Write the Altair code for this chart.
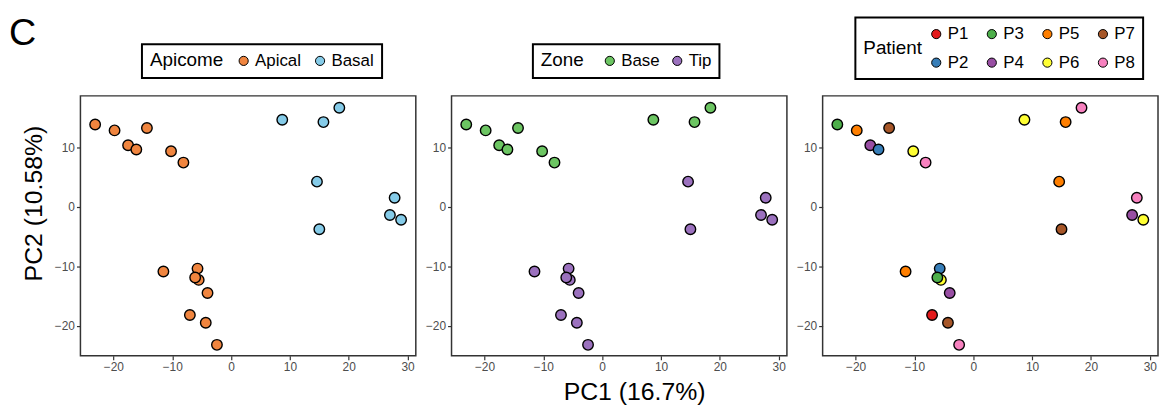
import altair as alt
import pandas as pd

pc1 = [-23.1, -19.8, -17.5, -16.1, -14.3, -10.2, -8.1, 8.7, 18.4, 15.7, 14.6, 27.8,
       27.0, 28.9, 15.0, -11.5, -5.7, -5.5, -6.1, -4.0, -7.0, -4.3, -2.4]
pc2 = [13.8, 12.8, 10.3, 9.6, 13.2, 9.3, 7.4, 14.6, 16.6, 14.2, 4.2, 1.5,
       -1.4, -2.2, -3.8, -10.9, -10.4, -12.3, -11.9, -14.5, -18.2, -19.5, -23.2]
apicome = ["Apical"] * 7 + ["Basal"] * 8 + ["Apical"] * 8
zone = ["Base"] * 10 + ["Tip"] * 13
patient = ["P3", "P5", "P4", "P2", "P7", "P6", "P8", "P6", "P8", "P5", "P5", "P8",
           "P4", "P6", "P7", "P5", "P2", "P6", "P3", "P4", "P1", "P7", "P8"]

apicome_levels = ["Apical", "Basal"]
apicome_colors = ["#F0853F", "#85CBE8"]
zone_levels = ["Base", "Tip"]
zone_colors = ["#6CC562", "#9B71BE"]
patient_levels = ["P1", "P3", "P5", "P7", "P2", "P4", "P6", "P8"]
patient_colors = ["#E41A1C", "#4DAF4A", "#FF7F00", "#A65628",
                  "#377EB8", "#984EA3", "#FFFF33", "#F781BF"]

x_ticks = [-20, -10, 0, 10, 20, 30]
y_ticks = [-20, -10, 0, 10]

df = pd.DataFrame({"PC1": pc1, "PC2": pc2, "Apicome": apicome,
                   "Zone": zone, "Patient": patient})

FONT = "Liberation Sans"
W, H = 338, 262


def panel(field, levels, colors, lx, ly, cols, tpad, cpad, ytitle=None, xtitle=None):
    yaxis = dict(values=y_ticks, title=ytitle)
    if ytitle:
        yaxis.update(titleFontSize=25, titleY=108, titlePadding=8)
    xaxis = dict(values=x_ticks, title=xtitle)
    if xtitle:
        xaxis.update(titleFontSize=25, titleX=184, titlePadding=7)
    return alt.Chart(df).mark_circle(
        size=112, opacity=1, stroke="black", strokeWidth=1.4
    ).encode(
        x=alt.X("PC1:Q", scale=alt.Scale(domain=[-25.6, 31.4], nice=False, zero=False),
                axis=alt.Axis(**xaxis)),
        y=alt.Y("PC2:Q", scale=alt.Scale(domain=[-25.05, 18.6], nice=False, zero=False),
                axis=alt.Axis(**yaxis)),
        color=alt.Color(f"{field}:N",
                        scale=alt.Scale(domain=levels, range=colors),
                        legend=alt.Legend(orient="none", legendX=lx, legendY=ly,
                                          direction="horizontal", columns=cols,
                                          titleOrient="left", titleAnchor="middle",
                                          titleBaseline="middle",
                                          titlePadding=tpad, columnPadding=cpad,
                                          rowPadding=11, padding=8,
                                          strokeColor="black",
                                          symbolType="circle", symbolSize=85,
                                          symbolStrokeColor="black",
                                          symbolStrokeWidth=1,
                                          labelFontSize=17, titleFontSize=19,
                                          labelOffset=3)),
    ).properties(width=W, height=H)


p1 = panel("Apicome", apicome_levels, apicome_colors, 62, -52, 2, 12, 10,
           ytitle="PC2 (10.58%)")
label_df = pd.DataFrame({"t": ["C"]})
c_label = alt.Chart(label_df).mark_text(
    fontSize=38, align="left", baseline="alphabetic", font=FONT, color="black"
).encode(x=alt.value(-72), y=alt.value(-51), text="t:N")
p1 = alt.layer(p1, c_label).resolve_scale(color="independent")

p2 = panel("Zone", zone_levels, zone_colors, 82, -52, 2, 17, 9, xtitle="PC1 (16.7%)")
p3 = panel("Patient", patient_levels, patient_colors, 33, -79, 4, 5, 15)

chart = alt.hconcat(p1, p2, p3, spacing=36, bounds="flush").resolve_scale(
    color="independent"
).properties(
    padding={"top": 5, "left": 0, "right": 0, "bottom": 0}
).configure(font=FONT).configure_view(
    stroke="#333333", strokeWidth=1.5
).configure_axis(
    domain=False, grid=False, tickColor="#333333", tickSize=4, tickWidth=1.2,
    labelColor="#4D4D4D", labelFontSize=12, labelPadding=2,
    titleColor="black", titleFontWeight="normal", labelFont=FONT, titleFont=FONT
).configure_legend(
    labelColor="black", titleColor="black", titleFontWeight="normal",
    labelFont=FONT, titleFont=FONT, strokeWidth=2
)

chart.save("out.html", embed_options={"renderer": "svg", "actions": False})
